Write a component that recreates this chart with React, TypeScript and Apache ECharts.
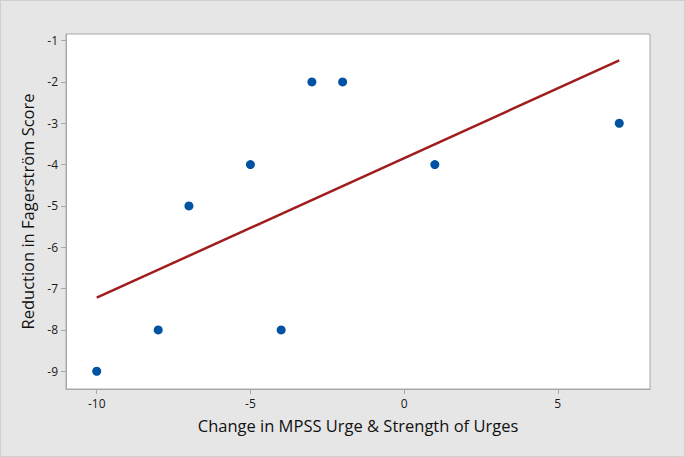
import React, { useEffect, useRef } from "react";
import * as echarts from "echarts";

const xValues = [-10, -8, -7, -5, -4, -3, -2, 1, 7];
const yValues = [-9, -8, -5, -4, -8, -2, -2, -4, -3];
const fitX = [-10, 7];
const fitY = [-7.22, -1.48];
const xTicks = [-10, -5, 0, 5];
const yTicks = [-9, -8, -7, -6, -5, -4, -3, -2, -1];

export default function App() {
  const ref = useRef<HTMLDivElement>(null);
  useEffect(() => {
    const chart = echarts.init(ref.current!, null, { renderer: "svg" });
    const font = "'Open Sans', 'Noto Sans', sans-serif";
    chart.setOption({
      animation: false,
      backgroundColor: "#e6e6e6",
      grid: {
        left: 65,
        top: 33,
        right: 34,
        bottom: 67,
        show: true,
        backgroundColor: "#ffffff",
        borderColor: "#a8a8a8",
        borderWidth: 1,
      },
      xAxis: {
        type: "value",
        min: -11,
        max: 8,
        name: "Change in MPSS Urge & Strength of Urges",
        nameLocation: "middle",
        nameGap: 28,
        nameTextStyle: { fontFamily: font, fontSize: 16.5, color: "#111111" },
        axisLine: { show: true, onZero: false, lineStyle: { color: "#a8a8a8" } },
        axisTick: {
          show: true,
          customValues: xTicks,
          length: 5,
          lineStyle: { color: "#a8a8a8" },
        },
        axisLabel: {
          customValues: xTicks,
          fontFamily: font,
          fontSize: 12,
          color: "#1a1a1a",
          margin: 8,
        },
        splitLine: { show: false },
      },
      yAxis: {
        type: "value",
        min: -9.43,
        max: -0.84,
        name: "Reduction in Fagerström Score",
        nameLocation: "middle",
        nameGap: 27,
        nameTextStyle: { fontFamily: font, fontSize: 16.5, color: "#111111" },
        axisLine: { show: true, onZero: false, lineStyle: { color: "#a8a8a8" } },
        axisTick: {
          show: true,
          customValues: yTicks,
          length: 5,
          lineStyle: { color: "#a8a8a8" },
        },
        axisLabel: {
          customValues: yTicks,
          fontFamily: font,
          fontSize: 12,
          color: "#1a1a1a",
          margin: 8,
        },
        splitLine: { show: false },
      },
      series: [
        {
          type: "line",
          data: fitX.map((x, i) => [x, fitY[i]]),
          showSymbol: false,
          symbol: "none",
          lineStyle: { color: "#a11d1d", width: 2.5 },
          z: 2,
        },
        {
          type: "scatter",
          data: xValues.map((x, i) => [x, yValues[i]]),
          symbolSize: 9,
          itemStyle: { color: "#0052a3", opacity: 1 },
          z: 3,
        },
      ],
    });
    return () => chart.dispose();
  }, []);
  return (
    <div
      ref={ref}
      style={{
        position: "fixed",
        left: 0,
        top: 0,
        width: 685,
        height: 457,
        boxSizing: "border-box",
        border: "1px solid #cfcfcf",
      }}
    />
  );
}
